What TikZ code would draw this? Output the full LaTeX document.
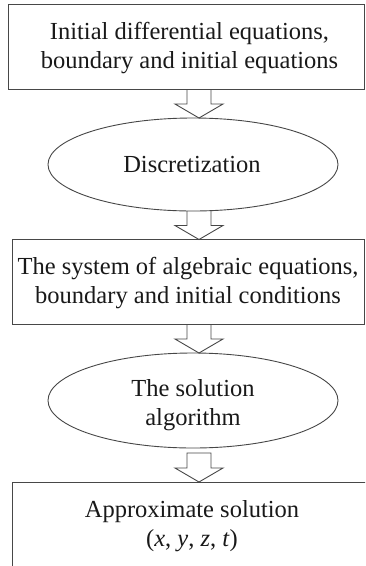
\documentclass[tikz,border=0pt]{standalone}
\usepackage{fontspec}
\setmainfont{Liberation Serif}
\usetikzlibrary{shapes.geometric,calc}
\newcommand\blkarrow[2]{%
  \draw[blk] ($(#1)+(-12,0)$) -- ($(#2)+(-12,-14)$) -- ($(#2)+(-24,-14)$) -- (#2)
    -- ($(#2)+(24,-14)$) -- ($(#2)+(12,-14)$) -- ($(#1)+(12,0)$);}
\begin{document}
\begin{tikzpicture}[x=1pt,y=-1pt,
  line/.style={draw=black!72,line width=0.9pt},
  boxs/.style={line,rectangle,inner sep=0pt,outer sep=0pt},
  ell/.style={line,ellipse,inner sep=0pt,outer sep=0pt,minimum width=290pt,minimum height=93pt},
  txt/.style={font=\fontsize{24.5pt}{29pt}\selectfont,align=center,inner sep=0pt,text=black!90},
  blk/.style={line,line join=miter}]
\useasboundingbox (0,0) rectangle (365,566);
\clip (0,0) rectangle (365,566);
\coordinate (ax) at (199,0);
% shapes
\node[boxs,minimum width=356pt,minimum height=84.5pt] (b1) at (186,46.75) {};
\node[ell] (e1) at (193,164.5) {};
\node[boxs,minimum width=352.5pt,minimum height=84.5pt] (b2) at (188.25,281.75) {};
\node[ell,minimum height=95pt] (e2) at (193,400.5) {};
\node[boxs,minimum width=360pt,minimum height=88pt] (b3) at (192,526) {};
% texts
\node[txt] (t1) at (189.5,48.5) {Initial differential equations,\\boundary and initial equations};
\node[txt] (t2) at (192,164.5) {Discretization};
\node[txt] (t3) at (188,283) {The system of algebraic equations,\\boundary and initial conditions};
\node[txt] (t4) at (193,405) {The solution\\algorithm};
\node[txt] (t5) at (192,526) {Approximate solution\\(\textit{x}, \textit{y}, \textit{z}, \textit{t})};
% block arrows
\coordinate (s1) at (ax |- b1.south);
\coordinate (p1) at (ax |- e1.north);
\blkarrow{s1}{p1}
\coordinate (s2) at (ax |- e1.south);
\coordinate (p2) at (ax |- b2.north);
\blkarrow{s2}{p2}
\coordinate (s3) at (ax |- b2.south);
\coordinate (p3) at (ax |- e2.north);
\blkarrow{s3}{p3}
\coordinate (s4) at ($(ax |- e2.south)+(0,5)$);
\coordinate (p4) at (ax |- b3.north);
\draw[blk] ($(s4)+(-12,0)$) -- ($(p4)+(-12,-14)$) -- ($(p4)+(-24,-14)$) -- (p4)
    -- ($(p4)+(24,-14)$) -- ($(p4)+(12,-14)$) -- ($(s4)+(12,0)$) -- cycle;
\end{tikzpicture}
\end{document}
